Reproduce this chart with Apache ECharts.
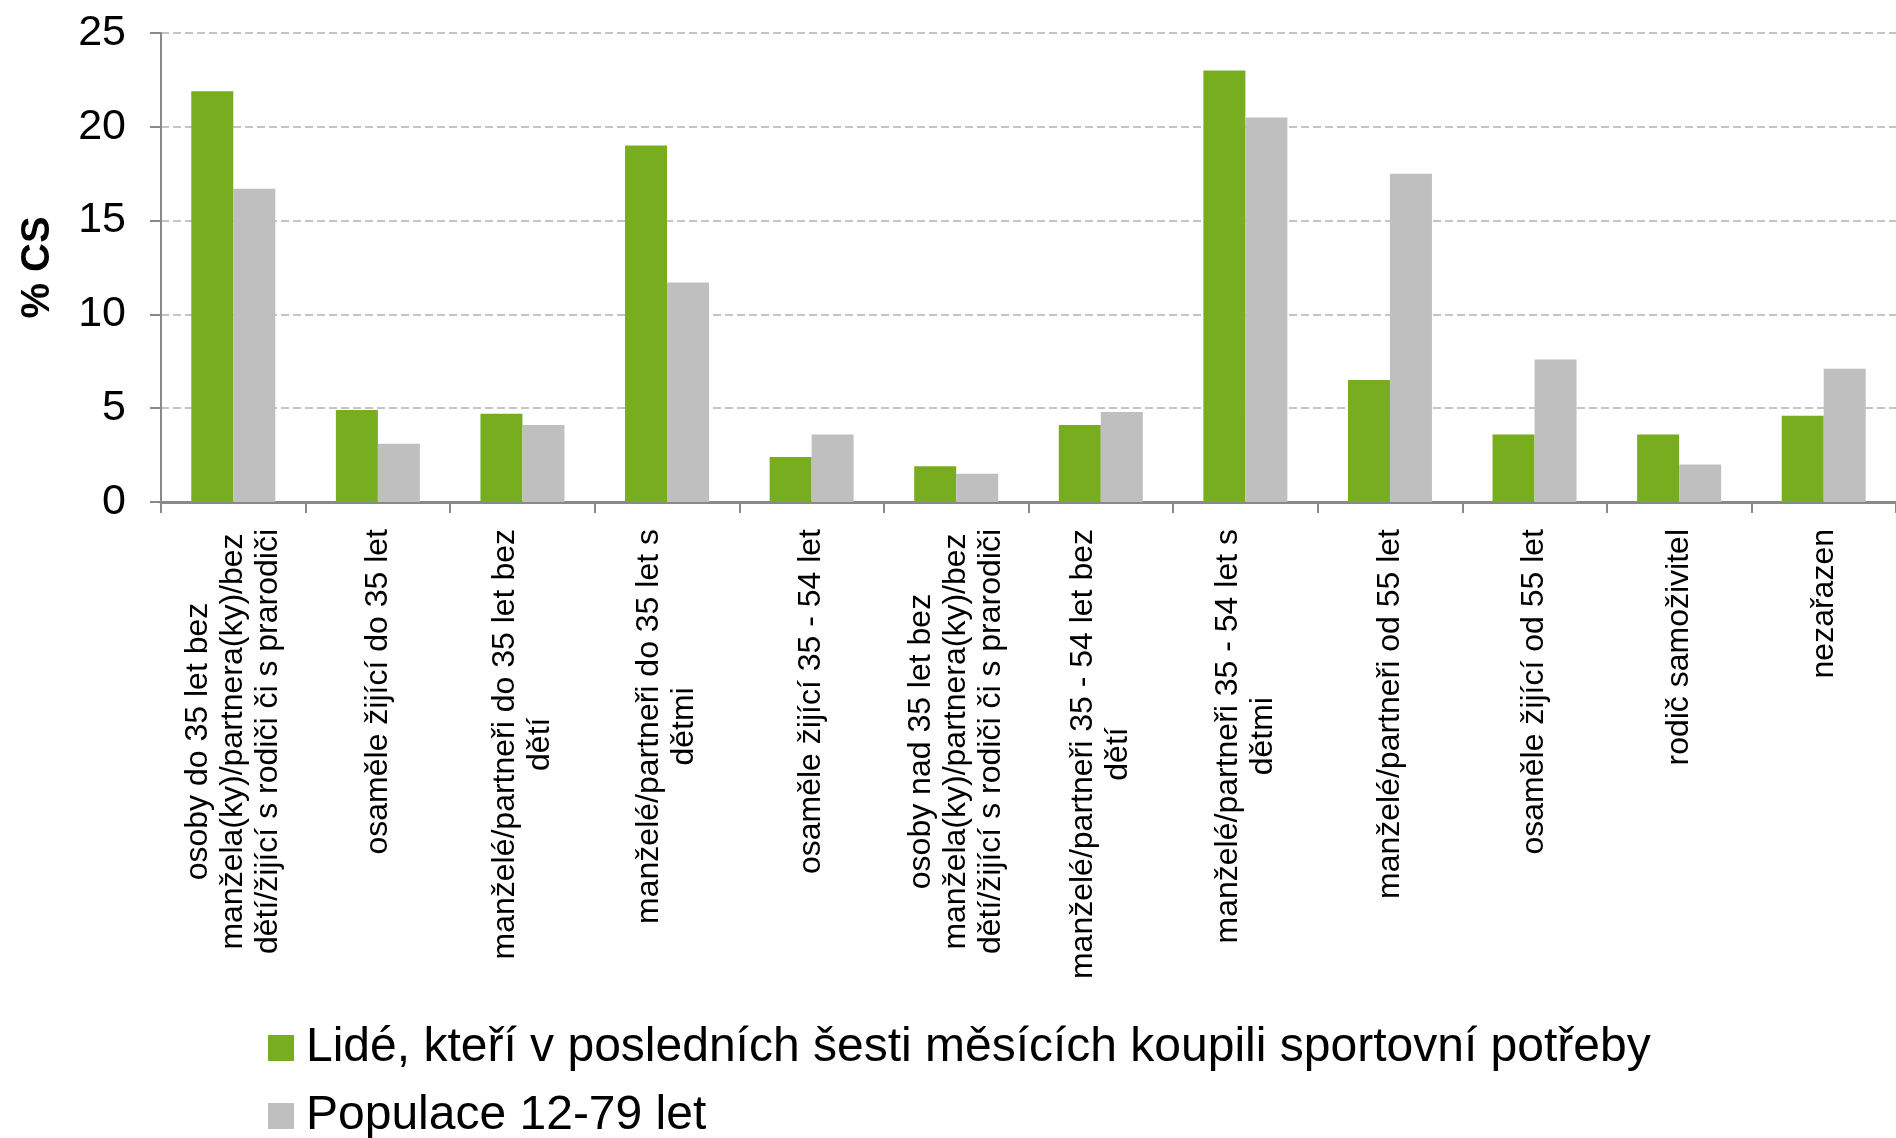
<!DOCTYPE html>
<html>
<head>
<meta charset="utf-8">
<script src="https://cdn.jsdelivr.net/npm/echarts@6/dist/echarts.min.js"></script>
<style>
html,body{margin:0;padding:0;background:#fff;}
#chart{width:1896px;height:1138px;}
</style>
</head>
<body>
<div id="chart"></div>
<script>
const categories = [
  "osoby do 35 let bez manžela(ky)/partnera(ky)/bez dětí/žijící s rodiči či s prarodiči",
  "osaměle žijící do 35 let",
  "manželé/partneři do 35 let bez dětí",
  "manželé/partneři do 35 let s dětmi",
  "osaměle žijící 35 - 54 let",
  "osoby nad 35 let bez manžela(ky)/partnera(ky)/bez dětí/žijící s rodiči či s prarodiči",
  "manželé/partneři 35 - 54 let bez dětí",
  "manželé/partneři 35 - 54 let s dětmi",
  "manželé/partneři od 55 let",
  "osaměle žijící od 55 let",
  "rodič samoživitel",
  "nezařazen"
];
const seriesNames = [
  "Lidé, kteří v posledních šesti měsících koupili sportovní potřeby",
  "Populace 12-79 let"
];
const buyers = [21.9, 4.9, 4.7, 19.0, 2.4, 1.9, 4.1, 23.0, 6.5, 3.6, 3.6, 4.6];
const population = [16.7, 3.1, 4.1, 11.7, 3.6, 1.5, 4.8, 20.5, 17.5, 7.6, 2.0, 7.1];
const yTicks = [0, 5, 10, 15, 20, 25];

const FONT = '"Liberation Sans", Arial, sans-serif';
const LABEL_SIZE = 32;
const WRAP_WIDTH = 465;

const ctx = document.createElement('canvas').getContext('2d');
ctx.font = LABEL_SIZE + 'px "Liberation Sans", Arial, sans-serif';
function wrap(text) {
  const words = text.split(' ');
  const lines = [];
  let cur = '';
  for (const w of words) {
    const test = cur ? cur + ' ' + w : w;
    if (cur && ctx.measureText(test).width > WRAP_WIDTH) {
      lines.push(cur);
      cur = w;
    } else {
      cur = test;
    }
  }
  if (cur) lines.push(cur);
  return lines;
}

const legendBase = {
  orient: 'vertical',
  left: 263,
  itemWidth: 26,
  itemHeight: 26,
  icon: 'rect',
  textStyle: {fontSize: 48, color: '#000', fontFamily: FONT, padding: [0, 0, 0, 7]}
};

const chart = echarts.init(document.getElementById('chart'), null, {renderer: 'canvas'});
chart.setOption({
  animation: false,
  backgroundColor: '#ffffff',
  textStyle: {fontFamily: FONT},
  grid: {left: 161, right: 0, top: 33, bottom: 636},
  legend: [
    Object.assign({}, legendBase, {top: 1019, data: [seriesNames[0]]}),
    Object.assign({}, legendBase, {top: 1087, data: [seriesNames[1]]})
  ],
  xAxis: {
    type: 'category',
    data: categories,
    axisLine: {show: true, lineStyle: {color: '#898989', width: 3}},
    axisTick: {show: true, length: 11, lineStyle: {color: '#898989', width: 2}},
    axisLabel: {
      interval: 0,
      rotate: 90,
      margin: 27,
      color: '#000',
      fontFamily: FONT,
      fontSize: LABEL_SIZE,
      formatter: function (v) {
        return wrap(v).map(l => '{c|' + l + '}').join('\n');
      },
      rich: {
        c: {align: 'center', fontSize: LABEL_SIZE, lineHeight: 35, fontFamily: FONT, color: '#000'}
      }
    }
  },
  yAxis: {
    type: 'value',
    min: yTicks[0],
    max: yTicks[yTicks.length - 1],
    interval: yTicks[1] - yTicks[0],
    name: '% CS',
    nameLocation: 'middle',
    nameRotate: 90,
    nameGap: 103,
    nameTextStyle: {fontSize: 40, fontWeight: 'bold', color: '#000', fontFamily: FONT},
    axisLine: {show: true, lineStyle: {color: '#898989', width: 2}},
    axisTick: {show: true, length: 11, lineStyle: {color: '#898989', width: 2}},
    axisLabel: {fontSize: 43, color: '#000', margin: 35, fontFamily: FONT},
    splitLine: {show: true, lineStyle: {color: '#C4C4C4', width: 2, type: [8, 4]}}
  },
  series: [
    {
      name: seriesNames[0],
      type: 'bar',
      data: buyers,
      barWidth: 42,
      barGap: '0%',
      itemStyle: {color: '#77AD1F'}
    },
    {
      name: seriesNames[1],
      type: 'bar',
      data: population,
      barWidth: 42,
      barGap: '0%',
      itemStyle: {color: '#BFBFBF'}
    }
  ]
});
</script>
</body>
</html>
